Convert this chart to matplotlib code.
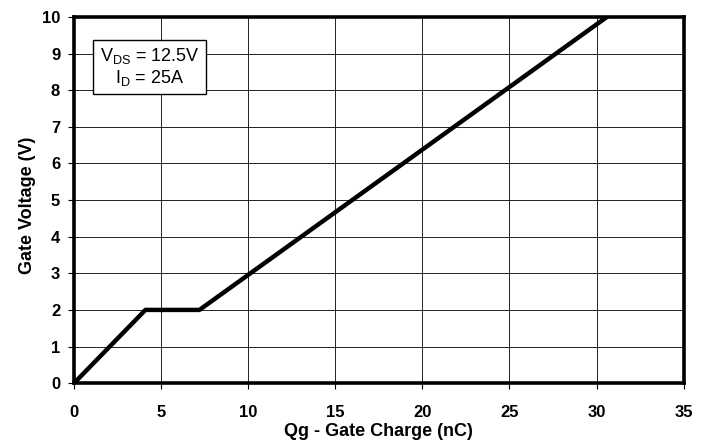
import matplotlib
matplotlib.use("Agg")
import matplotlib.pyplot as plt

plt.rcParams['font.family'] = ['Liberation Sans', 'DejaVu Sans']
plt.rcParams['mathtext.fontset'] = 'custom'
plt.rcParams['mathtext.rm'] = 'Liberation Sans'
plt.rcParams['mathtext.it'] = 'Liberation Sans'

qg = [0, 4.1, 7.2, 30.6]
vg = [0, 2, 2, 10]
xticks = [0, 5, 10, 15, 20, 25, 30, 35]
yticks = [0, 1, 2, 3, 4, 5, 6, 7, 8, 9, 10]

fig = plt.figure(figsize=(7.07, 4.44), dpi=100)
ax = fig.add_axes([0.1047, 0.137, 0.8623, 0.825])
ax.plot(qg, vg, color='black', lw=3.2, solid_capstyle='butt', zorder=3)
ax.set_xlim(0, 35)
ax.set_ylim(0, 10)
ax.set_xticks(xticks)
ax.set_yticks(yticks)
ax.grid(True, color='#222222', lw=0.7)
for s in ax.spines.values():
    s.set_linewidth(2.6)
    s.set_zorder(4)
ax.tick_params(axis='x', direction='out', length=4, width=0.8, pad=12)
ax.tick_params(axis='y', direction='out', length=4, width=0.8, pad=6)
for lbl in ax.get_xticklabels() + ax.get_yticklabels():
    lbl.set_fontweight('bold')
    lbl.set_fontsize(12)
ax.set_xlabel('Qg - Gate Charge (nC)', fontweight='bold', fontsize=13, labelpad=2)
ax.set_ylabel('Gate Voltage (V)', fontweight='bold', fontsize=13, labelpad=4)
ax.yaxis.label.set_y(0.485)

ax.text(4.34, 8.63, 'V$_{\\rm DS}$ = 12.5V\nI$_{\\rm D}$ = 25A', fontsize=13, ha='center', va='center',
        linespacing=1.1,
        bbox=dict(boxstyle='square,pad=0.35', fc='white', ec='black', lw=1.0), zorder=5)

fig.savefig('out.png', dpi=100)
